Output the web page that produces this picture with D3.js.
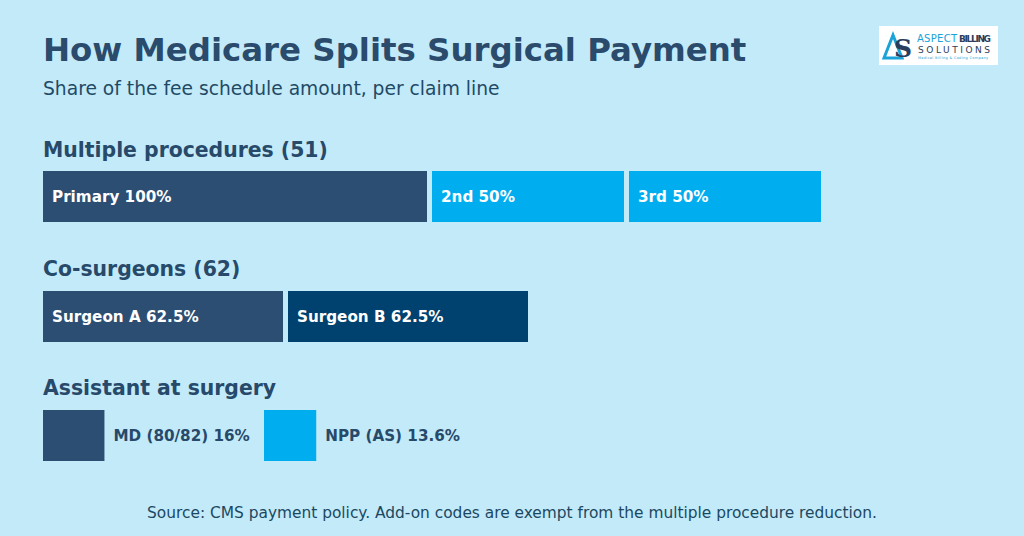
<!DOCTYPE html>
<html><head><meta charset="utf-8">
<script src="https://cdn.jsdelivr.net/npm/d3@7"></script>
<style>html,body{margin:0;padding:0;background:#c3eaf9;}svg{display:block;font-family:"DejaVu Sans",sans-serif;}</style>
</head><body>
<svg id="c" width="1024" height="536"></svg>
<script>
const groupTitles = ["Multiple procedures (51)", "Co-surgeons (62)", "Assistant at surgery"];
const multipleLabels = ["Primary", "2nd", "3rd"];
const multipleValues = [100, 50, 50];
const coLabels = ["Surgeon A", "Surgeon B"];
const coValues = [62.5, 62.5];
const assistLabels = ["MD (80/82)", "NPP (AS)"];
const assistValues = [16, 13.6];

const svg = d3.select("#c");
const W = 1024, H = 536;
svg.append("rect").attr("width", W).attr("height", H).attr("fill", "#c3eaf9");

const x = d3.scaleLinear().domain([0, 100]).range([0, 384]);
const left = 43, gap = 5, barH = 51;

svg.append("text").attr("x", 43).attr("y", 61).attr("fill", "#2a4b6c")
  .attr("font-size", 32.4).attr("font-weight", "bold").text("How Medicare Splits Surgical Payment");
svg.append("text").attr("x", 43).attr("y", 95).attr("fill", "#1f4a66")
  .attr("font-size", 18.7).text("Share of the fee schedule amount, per claim line");

const titleY = [157, 276, 395];
groupTitles.forEach((t, i) => {
  svg.append("text").attr("x", 43).attr("y", titleY[i]).attr("fill", "#27496a")
    .attr("font-size", 20.4).attr("font-weight", "bold").text(t);
});

function fmt(v) { return v + "%"; }

function stacked(labels, values, colors, y0) {
  let cum = 0;
  const data = values.map((v, i) => {
    const d = { label: labels[i], value: v, x0: left + x(cum) + gap * i, color: colors[i] };
    cum += v; return d;
  });
  const g = svg.append("g");
  g.selectAll("rect").data(data).join("rect")
    .attr("x", d => d.x0).attr("y", y0).attr("width", d => x(d.value)).attr("height", barH)
    .attr("fill", d => d.color);
  g.selectAll("text").data(data).join("text")
    .attr("x", d => d.x0 + 9).attr("y", y0 + barH / 2 + 5.5)
    .attr("fill", "#ffffff").attr("font-size", 15.2).attr("font-weight", "bold")
    .text(d => d.label + " " + fmt(d.value));
}
stacked(multipleLabels, multipleValues, ["#2c4e73", "#00aeef", "#00aeef"], 171);
stacked(coLabels, coValues, ["#2c4e73", "#00426f"], 291);

// assistant squares
const aColors = ["#2c4e73", "#00aeef"];
const aStarts = [left, 264];
assistValues.forEach((v, i) => {
  svg.append("rect").attr("x", aStarts[i]).attr("y", 410).attr("width", x(v)).attr("height", barH)
    .attr("fill", aColors[i]);
  svg.append("text").attr("x", aStarts[i] + x(v) + 9).attr("y", 410 + barH / 2 + 5.5)
    .attr("fill", "#27496a").attr("font-size", 15.2).attr("font-weight", "bold")
    .text(assistLabels[i] + " " + fmt(v));
});

svg.append("text").attr("x", 512).attr("y", 518).attr("text-anchor", "middle")
  .attr("fill", "#1a4862").attr("font-size", 15.4)
  .text("Source: CMS payment policy. Add-on codes are exempt from the multiple procedure reduction.");

// logo
const lg = svg.append("g").attr("transform", "translate(879,26)");
lg.append("rect").attr("width", 119).attr("height", 39).attr("fill", "#ffffff");
lg.append("path").attr("d", "M5,32 L14,9 L23,32 Z").attr("fill", "none").attr("stroke", "#1aa3d8").attr("stroke-width", 3);
lg.append("text").attr("x", 15).attr("y", 31).attr("font-size", 25).attr("font-family", "DejaVu Serif, serif")
  .attr("font-weight", "bold").attr("fill", "#2a3d5c").text("S");
lg.append("text").attr("x", 38).attr("y", 16).attr("font-size", 10).attr("textLength", 40).attr("fill", "#1aa3d8").text("ASPECT");
lg.append("text").attr("x", 80).attr("y", 16).attr("font-size", 9).attr("font-weight", "bold").attr("textLength", 32).attr("fill", "#2a3d5c").text("BILLING");
lg.append("text").attr("x", 39).attr("y", 27).attr("font-size", 9).attr("textLength", 72).attr("fill", "#2a3d5c").text("SOLUTIONS");
lg.append("text").attr("x", 39).attr("y", 33).attr("font-size", 3.5).attr("textLength", 70).attr("fill", "#1aa3d8").text("Medical Billing & Coding Company");
</script>
</body></html>
